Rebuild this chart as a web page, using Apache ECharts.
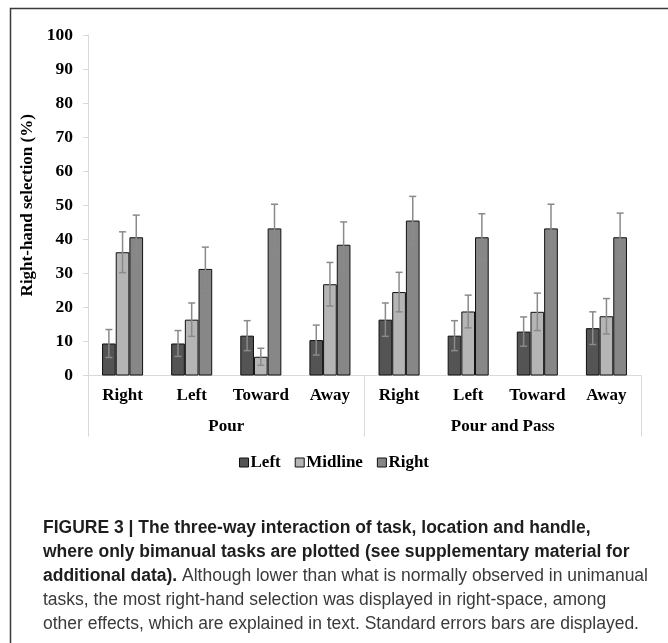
<!DOCTYPE html>
<html>
<head>
<meta charset="utf-8">
<script src="https://cdn.jsdelivr.net/npm/echarts@6/dist/echarts.min.js"></script>
<style>
html,body{margin:0;padding:0;background:#fff;}
#chart{width:668px;height:643px;}
</style>
</head>
<body>
<div id="chart"></div>
<script>
// ---- data ----
var subCategories = ['Right', 'Left', 'Toward', 'Away', 'Right', 'Left', 'Toward', 'Away'];
var groups = ['Pour', 'Pour and Pass'];
var seriesNames = ['Left', 'Midline', 'Right'];
var leftValues    = [9.4, 9.4, 11.7, 10.4, 16.4, 11.7, 12.9, 13.9];
var leftSE        = [4.1, 3.8, 4.4, 4.4, 4.9, 4.4, 4.3, 4.8];
var midlineValues = [36.2, 16.4, 5.5, 26.8, 24.5, 18.8, 18.7, 17.4];
var midlineSE     = [6.0, 4.9, 2.5, 6.4, 5.8, 4.8, 5.5, 5.2];
var rightValues   = [40.6, 31.3, 43.2, 38.4, 45.5, 40.6, 43.2, 40.6];
var rightSE       = [6.5, 6.4, 7.1, 6.7, 7.1, 6.9, 7.1, 7.1];
var yTicks = { min: 0, max: 100, interval: 10 };
var yAxisTitle = 'Right-hand selection (%)';
var captionLines = [
  [{b: 'FIGURE 3 | The three-way interaction of task, location and handle,'}],
  [{b: 'where only bimanual tasks are plotted (see supplementary material for'}],
  [{b: 'additional data).'}, {r: ' Although lower than what is normally observed in unimanual'}],
  [{r: 'tasks, the most right-hand selection was displayed in right-space, among'}],
  [{r: 'other effects, which are explained in text. Standard errors bars are displayed.'}]
];

// ---- chart ----
var chart = echarts.init(document.getElementById('chart'), null, {renderer: 'canvas'});
var serifBold = {fontFamily: 'Liberation Serif', fontWeight: 'bold', color: '#000'};
var barColors = ['#545454', '#b5b5b5', '#878787'];
var BAR_FRAC = 0.198;
var valueSets = [leftValues, midlineValues, rightValues];
var seSets = [leftSE, midlineSE, rightSE];

function errRender(k) {
  return function (params, api) {
    var idx = api.value(0), v = api.value(1), se = api.value(2);
    var band = api.size([1, 0])[0];
    var bw = band * BAR_FRAC;
    var x = api.coord([idx, v])[0] + k * bw;
    var yt = api.coord([idx, v + se])[1];
    var yb = api.coord([idx, v - se])[1];
    var cap = 3.5;
    var st = {stroke: '#8a8a8a', lineWidth: 1.5};
    return {
      type: 'group',
      children: [
        {type: 'line', shape: {x1: x, y1: yt, x2: x, y2: yb}, style: st},
        {type: 'line', shape: {x1: x - cap, y1: yt, x2: x + cap, y2: yt}, style: st},
        {type: 'line', shape: {x1: x - cap, y1: yb, x2: x + cap, y2: yb}, style: st}
      ]
    };
  };
}

var series = [];
seriesNames.forEach(function (name, i) {
  series.push({
    name: name, type: 'bar', xAxisIndex: 0,
    barWidth: (BAR_FRAC * 100) + '%', barGap: '0%',
    itemStyle: {color: barColors[i], borderColor: '#111', borderWidth: 1},
    data: valueSets[i],
    z: 2
  });
});
seriesNames.forEach(function (name, i) {
  series.push({
    name: name + ' SE', type: 'custom', xAxisIndex: 0, z: 5,
    renderItem: errRender(i - 1),
    encode: {x: 0, y: 1},
    data: valueSets[i].map(function (v, j) { return [j, v, seSets[i][j]]; })
  });
});

var graphics = [
  {type: 'polyline', shape: {points: [[10.5, 643], [10.5, 8.5], [668, 8.5]]},
   style: {stroke: '#3a3a3a', lineWidth: 1.5, fill: null}}
];
captionLines.forEach(function (parts, li) {
  var txt = parts.map(function (p) {
    return p.b !== undefined ? '{b|' + p.b + '}' : '{r|' + p.r + '}';
  }).join('');
  graphics.push({
    type: 'text', left: 43, top: 519 + li * 24,
    style: {
      text: txt,
      rich: {
        b: {fontFamily: 'Liberation Sans', fontWeight: 'bold', fontSize: 17.5, fill: '#1e1e1e'},
        r: {fontFamily: 'Liberation Sans', fontSize: 17.5, fill: '#3a3a3a'}
      }
    }
  });
});

chart.setOption({
  animation: false,
  grid: {left: 88, right: 27, top: 35, bottom: 643 - 375.5, containLabel: false},
  legend: {
    data: seriesNames, top: 449, left: 'center',
    icon: 'rect', itemWidth: 9, itemHeight: 9, itemGap: 14,
    itemStyle: {borderColor: '#111', borderWidth: 1},
    textStyle: Object.assign({fontSize: 17, padding: [0, 0, 0, -3]}, serifBold)
  },
  xAxis: [
    {
      type: 'category', data: subCategories, position: 'bottom', offset: 0,
      axisLine: {show: true, lineStyle: {color: '#d9d9d9', width: 1}},
      axisTick: {show: false},
      axisLabel: Object.assign({fontSize: 17, margin: 12, interval: 0}, serifBold)
    },
    {
      type: 'category', data: groups, position: 'bottom', offset: 0,
      axisLine: {show: false},
      axisTick: {show: true, length: 61, interval: 0, lineStyle: {color: '#d9d9d9', width: 1}},
      axisLabel: Object.assign({fontSize: 17, margin: 43, interval: 0}, serifBold)
    }
  ],
  yAxis: {
    type: 'value', min: yTicks.min, max: yTicks.max, interval: yTicks.interval,
    name: yAxisTitle, nameLocation: 'middle', nameGap: 44,
    nameTextStyle: Object.assign({fontSize: 17}, serifBold),
    axisLine: {show: true, lineStyle: {color: '#d9d9d9', width: 1}},
    axisTick: {show: true, length: 5, lineStyle: {color: '#d9d9d9'}},
    splitLine: {show: false},
    axisLabel: Object.assign({fontSize: 17.5, margin: 15}, serifBold)
  },
  graphic: graphics,
  series: series
});
</script>
</body>
</html>
